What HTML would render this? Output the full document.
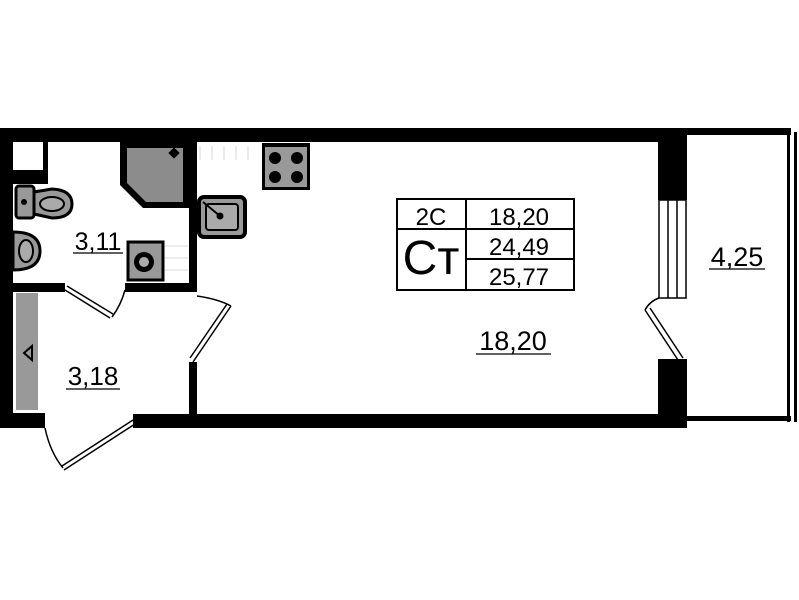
<!DOCTYPE html>
<html><head><meta charset="utf-8"><style>
html,body{margin:0;padding:0;background:#fff;}
svg{display:block;}
text{font-family:"Liberation Sans",sans-serif;fill:#000;}
</style></head><body>
<svg width="799" height="600" viewBox="0 0 799 600" xmlns="http://www.w3.org/2000/svg">
<rect width="799" height="600" fill="#fff"/>
<rect x="0" y="128" width="687" height="14" fill="#000"/>
<rect x="687" y="128" width="104" height="7" fill="#000"/>
<rect x="787" y="128" width="3" height="294" fill="#000"/>
<rect x="794" y="132" width="3" height="290" fill="#000"/>
<rect x="687" y="416" width="104" height="5" fill="#000"/>
<rect x="0" y="128" width="13" height="300" fill="#000"/>
<rect x="0" y="413" width="45" height="15" fill="#000"/>
<rect x="133" y="414" width="554" height="14" fill="#000"/>
<rect x="658" y="128" width="29" height="72" fill="#000"/>
<rect x="658" y="359" width="29" height="69" fill="#000"/>
<rect x="659" y="200" width="27" height="98" fill="#fff" stroke="#000" stroke-width="1.5"/>
<line x1="668" y1="200" x2="668" y2="298" stroke="#000" stroke-width="1.5"/>
<line x1="677" y1="200" x2="677" y2="298" stroke="#000" stroke-width="1.5"/>
<path d="M659 298 Q650 301 645 310" fill="none" stroke="#000" stroke-width="1.5"/>
<path d="M645 310 L678 360 M650 308 L683 358" fill="none" stroke="#000" stroke-width="1.5"/>
<rect x="189" y="142" width="8" height="150" fill="#000"/>
<rect x="189" y="362" width="8" height="52" fill="#000"/>
<rect x="0" y="283" width="65" height="9" fill="#000"/>
<rect x="125" y="283" width="72" height="9" fill="#000"/>
<rect x="13" y="170" width="35" height="14" fill="#000"/>
<rect x="43" y="142" width="5" height="42" fill="#000"/>
<path d="M120 142 L189 142 L189 208 L143 208 L120 185 Z" fill="#000"/>
<path d="M127 148 L183 148 L183 202 L146 202 L127 183 Z" fill="#8c8c8c"/>
<rect x="170" y="149" width="8" height="8" fill="#000" transform="rotate(45 174 153)"/>
<rect x="16" y="186" width="18" height="32" rx="3" fill="#999" stroke="#000" stroke-width="3"/>
<circle cx="24" cy="202" r="3" fill="#000"/>
<path d="M34 192 L52 189 Q72 190 72 204 Q72 218 52 218 L34 214 Z" fill="#999" stroke="#000" stroke-width="3"/>
<ellipse cx="52" cy="204" rx="12" ry="7" fill="#aaa" stroke="#000" stroke-width="2"/>
<path d="M13 232 Q40 232 40 251 Q40 270 13 270 Z" fill="#999" stroke="#000" stroke-width="3"/>
<ellipse cx="26" cy="251" rx="7" ry="11" fill="#aaa" stroke="#000" stroke-width="2"/>
<rect x="128" y="242" width="35" height="38" fill="#999" stroke="#000" stroke-width="3"/>
<circle cx="144" cy="262" r="10" fill="#000"/>
<circle cx="144" cy="262" r="5" fill="#aaa"/>
<g stroke="#ccc" stroke-width="0.8"><line x1="165" y1="246" x2="188" y2="246"/><line x1="165" y1="258" x2="188" y2="258"/><line x1="165" y1="270" x2="188" y2="270"/><line x1="200" y1="146" x2="200" y2="160"/><line x1="212" y1="146" x2="212" y2="160"/><line x1="224" y1="146" x2="224" y2="160"/><line x1="236" y1="146" x2="236" y2="160"/><line x1="248" y1="146" x2="248" y2="160"/></g>
<rect x="16" y="293" width="22" height="117" fill="#999"/>
<path d="M24 353 L32 346 L32 360 Z" fill="none" stroke="#000" stroke-width="2"/>
<rect x="262" y="143" width="48" height="47" fill="#000"/>
<rect x="265" y="147" width="42" height="40" fill="#999"/>
<circle cx="275" cy="158" r="6" fill="#000"/><circle cx="297" cy="158" r="6" fill="#000"/>
<circle cx="275" cy="177" r="6" fill="#000"/><circle cx="297" cy="177" r="6" fill="#000"/>
<rect x="199" y="197" width="46" height="40" rx="5" fill="#999" stroke="#000" stroke-width="4"/>
<rect x="206" y="204" width="32" height="26" rx="3" fill="#aaa" stroke="#000" stroke-width="2"/>
<line x1="203" y1="202" x2="220" y2="216" stroke="#000" stroke-width="2"/>
<circle cx="220" cy="216" r="3.5" fill="#000"/>
<path d="M65 290 L110 318 M67 286 L113 314" stroke="#000" stroke-width="1.5" fill="none"/>
<path d="M112 317 Q121 305 125 290" fill="none" stroke="#000" stroke-width="1.5"/>
<path d="M197 296 Q218 299 231 306" fill="none" stroke="#000" stroke-width="1.5"/>
<path d="M231 306 L193 362 M227 304 L190 358" fill="none" stroke="#000" stroke-width="1.5"/>
<path d="M133 420 L62 466 M135 424 L64 470" fill="none" stroke="#000" stroke-width="1.5"/>
<path d="M45 428 Q50 452 63 468" fill="none" stroke="#000" stroke-width="1.5"/>
<rect x="397" y="199" width="177" height="91" fill="#fff" stroke="#000" stroke-width="2"/>
<line x1="466" y1="199" x2="466" y2="290" stroke="#000" stroke-width="2"/>
<line x1="397" y1="229" x2="574" y2="229" stroke="#000" stroke-width="2"/>
<line x1="466" y1="259" x2="574" y2="259" stroke="#000" stroke-width="2"/>
<text x="431" y="225" font-size="24" text-anchor="middle">2С</text>
<text x="519" y="225" font-size="24" text-anchor="middle">18,20</text>
<text x="431" y="274" font-size="48" text-anchor="middle">Ст</text>
<text x="519" y="255" font-size="24" text-anchor="middle">24,49</text>
<text x="519" y="285" font-size="24" text-anchor="middle">25,77</text>
<text x="98" y="250" font-size="25" text-anchor="middle">3,11</text>
<line x1="73" y1="253" x2="123" y2="253" stroke="#000" stroke-width="1.2"/>
<text x="93" y="385" font-size="26" text-anchor="middle">3,18</text>
<line x1="66" y1="389" x2="120" y2="389" stroke="#000" stroke-width="1.2"/>
<text x="513" y="350" font-size="27" text-anchor="middle">18,20</text>
<line x1="476" y1="354" x2="551" y2="354" stroke="#000" stroke-width="1.2"/>
<text x="737" y="266" font-size="27" text-anchor="middle">4,25</text>
<line x1="709" y1="269" x2="765" y2="269" stroke="#000" stroke-width="1.2"/>
</svg>
</body></html>
